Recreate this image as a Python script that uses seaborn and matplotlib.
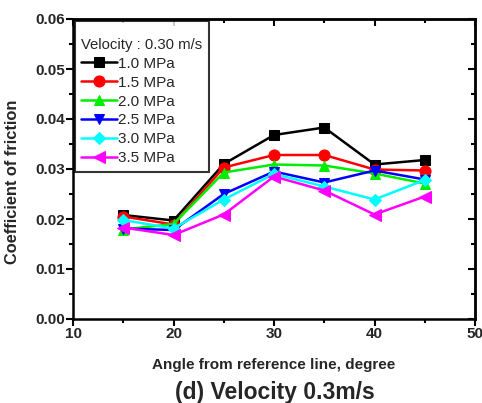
import matplotlib
matplotlib.use("Agg")
import matplotlib.pyplot as plt
import seaborn as sns
import pandas as pd
from matplotlib.ticker import MultipleLocator, FormatStrFormatter
from matplotlib.offsetbox import DrawingArea

angles = [15, 20, 25, 30, 35, 40, 45]
p10 = [0.0208, 0.0197, 0.0310, 0.0368, 0.0383, 0.0309, 0.0318]
p15 = [0.0205, 0.0189, 0.0303, 0.0328, 0.0328, 0.0299, 0.0297]
p20 = [0.0179, 0.0190, 0.0293, 0.0309, 0.0307, 0.0291, 0.0271]
p25 = [0.0181, 0.0178, 0.0250, 0.0295, 0.0273, 0.0297, 0.0279]
p30 = [0.0198, 0.0181, 0.0239, 0.0290, 0.0265, 0.0239, 0.0278]
p35 = [0.0183, 0.0168, 0.0209, 0.0285, 0.0257, 0.0209, 0.0245]
labels = ["1.0 MPa", "1.5 MPa", "2.0 MPa", "2.5 MPa", "3.0 MPa", "3.5 MPa"]
series = [p10, p15, p20, p25, p30, p35]
colors = ["#000000", "#ff0000", "#00ee00", "#0000ff", "#00ffff", "#ff00ff"]
markers = ["s", "o", "^", "v", "D", "<"]
msizes = [7, 8, 7, 7, 6, 8]

rows = []
for lab, vals in zip(labels, series):
    for a, v in zip(angles, vals):
        rows.append({"angle": a, "cof": v, "pressure": lab})
df = pd.DataFrame(rows)

sns.set_theme(style="white")
plt.rcParams['font.family'] = ['Liberation Sans', 'DejaVu Sans']

fig = plt.figure(figsize=(4.82, 4.03), dpi=100)
ax = fig.add_axes([73/482, 1-319/403, (475-73)/482, (319-19)/403])

for lab, c, m, ms in zip(labels, colors, markers, msizes):
    sub = df[df["pressure"] == lab]
    sns.lineplot(data=sub, x="angle", y="cof", ax=ax, color=c, marker=m,
                 markersize=ms, markeredgecolor=c, linewidth=1.8, label=lab)

ax.set_xlim(10, 50)
ax.set_ylim(0, 0.06)
ax.xaxis.set_major_locator(MultipleLocator(10))
ax.xaxis.set_minor_locator(MultipleLocator(5))
ax.yaxis.set_major_locator(MultipleLocator(0.01))
ax.yaxis.set_minor_locator(MultipleLocator(0.005))
ax.yaxis.set_major_formatter(FormatStrFormatter('%.2f'))

for sp in ax.spines.values():
    sp.set_linewidth(1.8)
    sp.set_color("black")

ax.tick_params(which='both', direction='out', color='black', width=1.5,
               left=True, bottom=True, right=False, top=False)
ax.tick_params(which='major', length=5, labelsize=11, pad=1)
ax.tick_params(which='minor', length=3)
for lbl in ax.get_xticklabels() + ax.get_yticklabels():
    lbl.set_fontweight('bold')

# inward ticks on right and top
sec_y = ax.secondary_yaxis('right')
sec_y.yaxis.set_major_locator(MultipleLocator(0.01))
sec_y.yaxis.set_minor_locator(MultipleLocator(0.005))
sec_y.tick_params(which='both', direction='in', color='black', width=1.5, labelright=False)
sec_y.tick_params(which='major', length=5)
sec_y.tick_params(which='minor', length=3)
sec_y.spines['right'].set_linewidth(1.8)
sec_x = ax.secondary_xaxis('top')
sec_x.xaxis.set_major_locator(MultipleLocator(10))
sec_x.xaxis.set_minor_locator(MultipleLocator(5))
sec_x.tick_params(which='both', direction='in', color='black', width=1.5, labeltop=False)
sec_x.tick_params(which='major', length=5)
sec_x.tick_params(which='minor', length=3)
sec_x.spines['top'].set_linewidth(1.8)

ax.set_xlabel("Angle from reference line, degree", fontsize=11, fontweight='bold', labelpad=12)
ax.set_ylabel("Coefficient of friction", fontsize=11.8, fontweight='bold')
ax.yaxis.set_label_coords(-0.132, 0.457)

leg = ax.legend(title="Velocity : 0.30 m/s", loc="upper left", frameon=True,
                fontsize=11, title_fontsize=10.7, handlelength=2.3, handletextpad=0.1,
                labelspacing=0.32, borderaxespad=0.1, borderpad=0.45, fancybox=False)
leg.get_frame().set_edgecolor("black")
leg.get_frame().set_linewidth(1.5)
leg._legend_box.align = "left"
try:
    leg._legend_box._children.insert(0, DrawingArea(1, 4))
except Exception:
    pass

fig.text(274.5/482, 1-392/403, "(d) Velocity 0.3m/s", ha='center', va='center',
         fontsize=16.5, fontweight='bold')

fig.savefig("out.png", dpi=100)
